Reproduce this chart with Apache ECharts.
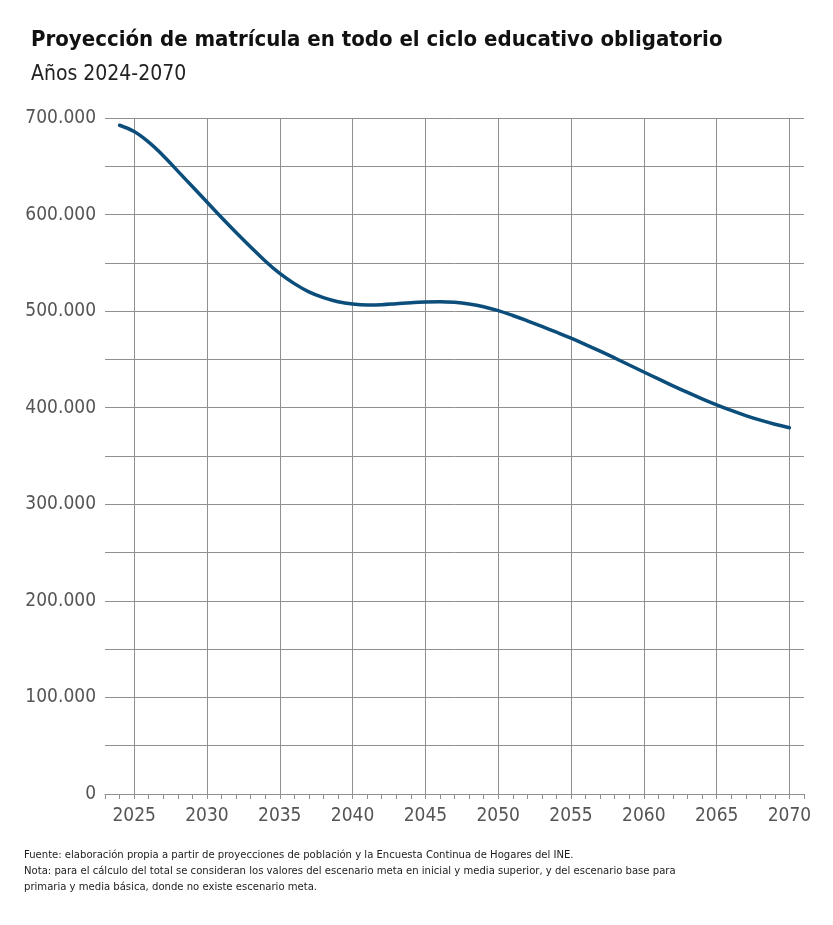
<!DOCTYPE html>
<html>
<head>
<meta charset="utf-8">
<script src="https://cdn.jsdelivr.net/npm/echarts@6/dist/echarts.min.js"></script>
<style>
  html, body { margin: 0; padding: 0; background: #fff; }
  #chart { width: 833px; height: 925px; }
</style>
</head>
<body>
<div id="chart"></div>
<script>
// axis range (categories) and data
const axisYears = [];
for (let y = 2023; y <= 2071; y++) axisYears.push(String(y));

const years = [
  2024, 2025, 2026, 2027, 2028, 2029, 2030, 2031, 2032, 2033, 2034, 2035,
  2036, 2037, 2038, 2039, 2040, 2041, 2042, 2043, 2044, 2045, 2046, 2047,
  2048, 2049, 2050, 2051, 2052, 2053, 2054, 2055, 2056, 2057, 2058, 2059,
  2060, 2061, 2062, 2063, 2064, 2065, 2066, 2067, 2068, 2069, 2070
];
const matricula = [
  692500, 686000, 675000, 661000, 645000, 629000, 613000, 597000, 581500, 566500, 552000, 539000,
  528500, 520000, 514000, 509800, 507400, 506400, 506700, 507700, 508800, 509500, 509800, 509100,
  507400, 504600, 500500, 495500, 490000, 484200, 478200, 472000, 465400, 458600, 451500, 444200,
  437000, 429800, 422700, 415800, 409200, 403000, 397200, 391900, 387100, 382900, 379300
];

const fontCond = '"Liberation Sans Narrow", "DejaVu Sans Condensed", sans-serif';
const gridColor = '#8f8f8f';

const chart = echarts.init(document.getElementById('chart'), null, { renderer: 'canvas' });

chart.setOption({
  backgroundColor: '#fff',
  animation: false,
  title: [
    {
      text: 'Proyección de matrícula en todo el ciclo educativo obligatorio',
      subtext: 'Años 2024-2070',
      left: 31,
      top: 27,
      padding: 0,
      itemGap: 10,
      textStyle: {
        fontFamily: fontCond,
        fontWeight: 'bold',
        fontSize: 22,
        color: '#111',
        lineHeight: 26,
      },
      subtextStyle: {
        fontFamily: fontCond,
        fontSize: 21,
        color: '#222',
        lineHeight: 24,
      },
    },
    {
      text: 'Fuente: elaboración propia a partir de proyecciones de población y la Encuesta Continua de Hogares del INE.\n' +
        'Nota: para el cálculo del total se consideran los valores del escenario meta en inicial y media superior, y del escenario base para\n' +
        'primaria y media básica, donde no existe escenario meta.',
      left: 24,
      top: 847,
      padding: 0,
      textStyle: {
        fontFamily: fontCond,
        fontWeight: 'normal',
        fontSize: 11.2,
        color: '#222',
        lineHeight: 16,
      },
    },
  ],
  grid: {
    left: 105,
    right: 29,
    top: 118,
    bottom: 131,
    containLabel: false,
  },
  xAxis: {
    type: 'category',
    data: axisYears,
    boundaryGap: false,
    axisLine: { show: true, lineStyle: { color: gridColor, width: 1 } },
    axisTick: {
      show: true,
      interval: 0,
      length: 5,
      lineStyle: { color: gridColor, width: 1 },
    },
    axisLabel: {
      interval: (i, v) => Number(v) % 5 === 0,
      margin: 13,
      fontFamily: fontCond,
      fontSize: 19,
      color: '#555',
    },
    splitLine: {
      show: true,
      interval: (i, v) => Number(v) % 5 === 0,
      lineStyle: { color: gridColor, width: 1 },
    },
  },
  yAxis: {
    type: 'value',
    min: 0,
    max: 700000,
    interval: 50000,
    axisLine: { show: false },
    axisTick: { show: false },
    axisLabel: {
      margin: 9,
      fontFamily: fontCond,
      fontSize: 19,
      color: '#555',
      verticalAlign: 'middle',
      padding: [0, 0, 6, 0],
      formatter: (v) => {
        if (v % 100000 !== 0) return '';
        return v === 0 ? '0' : (v / 1000) + '.000';
      },
    },
    splitLine: {
      show: true,
      lineStyle: { color: gridColor, width: 1 },
    },
  },
  series: [
    {
      type: 'line',
      data: years.map((y, i) => [String(y), matricula[i]]),
      smooth: 0.4,
      showSymbol: false,
      lineStyle: { color: '#0b4d7b', width: 3.5, cap: 'round' },
    },
  ],
});
</script>
</body>
</html>
